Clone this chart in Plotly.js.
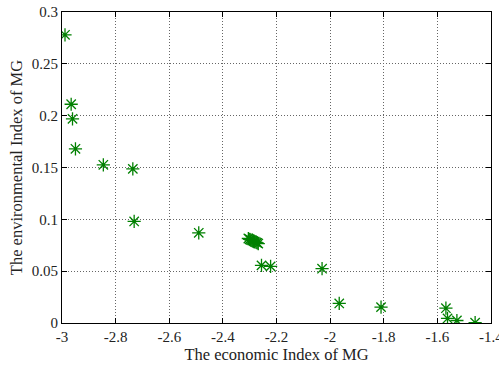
<!DOCTYPE html>
<html>
<head>
<meta charset="utf-8">
<script src="https://cdn.plot.ly/plotly-3.0.1.min.js"></script>
<style>html,body{margin:0;padding:0;background:#fff;}#chart{width:499px;height:366px;}</style>
</head>
<body>
<div id="chart"></div>
<script>
const economicIndex = [-2.989, -2.966, -2.961, -2.950, -2.846, -2.736, -2.731, -2.490,
  -2.305, -2.300, -2.296, -2.291, -2.286, -2.281, -2.276, -2.272, -2.268,
  -2.256, -2.222, -2.030, -1.966, -1.810, -1.568, -1.562, -1.527, -1.459];
const environmentalIndex = [0.278, 0.211, 0.197, 0.168, 0.1526, 0.1487, 0.098, 0.0870,
  0.0815, 0.0808, 0.0802, 0.0797, 0.0790, 0.0784, 0.0778, 0.0772, 0.0766,
  0.0556, 0.0546, 0.0524, 0.0189, 0.0153, 0.0143, 0.0044, 0.0024, 0.0003];
const xTicks = [-3, -2.8, -2.6, -2.4, -2.2, -2, -1.8, -1.6, -1.4];
const yTicks = [0, 0.05, 0.1, 0.15, 0.2, 0.25, 0.3];

const fam = '"Liberation Serif", "Times New Roman", serif';
const axisCommon = {
  showline: true, linecolor: '#000', linewidth: 1, mirror: 'ticks',
  ticks: 'inside', ticklen: 5, tickcolor: '#000', ticklabeloverflow: 'allow',
  showgrid: true, gridcolor: '#666', griddash: '1px,2px', gridwidth: 1,
  zeroline: false, tickfont: {family: fam, size: 15, color: '#222'}
};
Plotly.newPlot('chart', [{
  x: economicIndex, y: environmentalIndex, type: 'scatter', mode: 'markers',
  marker: {symbol: 'asterisk-open', size: 11, color: '#008000', line: {color: '#008000', width: 1.3}}
}], {
  width: 499, height: 366,
  font: {family: fam, color: '#222'},
  margin: {l: 62, r: 8, t: 12, b: 43},
  paper_bgcolor: '#fff', plot_bgcolor: '#fff', showlegend: false,
  xaxis: Object.assign({}, axisCommon, {range: [-3.0002, -1.3998], tickvals: xTicks,
    ticktext: xTicks.map(String),
    title: {text: 'The economic Index of MG', font: {family: fam, size: 16.5, color: '#222'}, standoff: 2}}),
  yaxis: Object.assign({}, axisCommon, {range: [0, 0.3], tickvals: yTicks,
    ticktext: yTicks.map(String),
    title: {text: 'The environmental Index of MG', font: {family: fam, size: 16.5, color: '#222'}, standoff: 4}})
}, {displayModeBar: false, staticPlot: true});
</script>
</body>
</html>
